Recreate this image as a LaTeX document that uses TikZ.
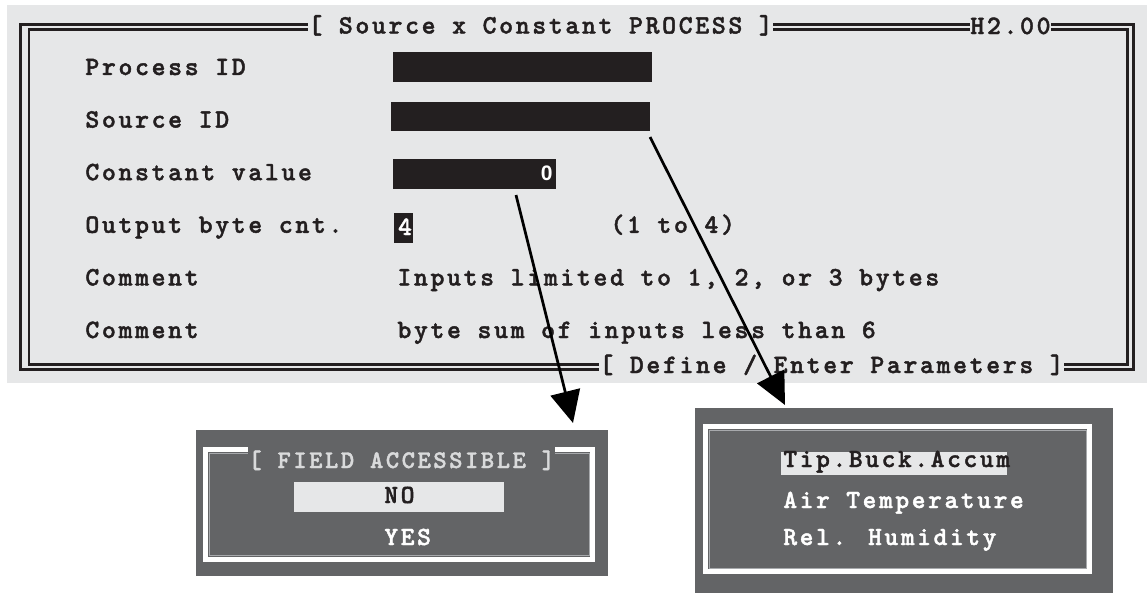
\documentclass[tikz,border=0pt]{standalone}
\usepackage{fontspec}
\newfontfamily\dosfont{lmmonolt10-bold.otf}[LetterSpace=10, FakeBold=1.6]
\newfontfamily\digitfont{Liberation Sans}
\usetikzlibrary{arrows.meta,positioning}
\definecolor{screen}{HTML}{E6E7E8}
\definecolor{ink}{HTML}{231F20}
\definecolor{popup}{HTML}{636466}
\definecolor{rim}{HTML}{A7A9AC}
\definecolor{dimtext}{HTML}{D9DADB}

\begin{document}
\begin{tikzpicture}[x=0.5pt, y=-0.5pt,
  label/.style={anchor=base west, inner sep=0, text=ink, font=\dosfont\fontsize{13.25}{15}\selectfont},
  cut/.style={label, fill=screen, inner ysep=2pt},
  field/.style={anchor=north west, fill=ink, inner sep=0, minimum height=15pt},
  frame/.style={draw=ink, line width=1.35pt},
  panel/.style={anchor=north west, fill=popup, inner sep=0},
  rimline/.style={draw=white, line width=2.5pt},
  rimthin/.style={draw=rim, line width=0.5pt},
  item/.style={anchor=base west, inner sep=0, text=white, font=\dosfont\fontsize{13.1}{15}\selectfont},
  pick/.style={anchor=north west, fill=screen, inner sep=0},
  pointer/.style={-{Triangle[length=16pt, width=15pt]}, line width=1.35pt, draw=black}
]
\useasboundingbox (0,0) rectangle (1147,594);

% --- screen background and double frame ---
\fill[screen] (7,5) rectangle (1147,383);
\draw[frame] (20.3,24.6) rectangle (1133.5,369.5);
\draw[frame] (29,29.5) rectangle (1127.5,364.5);
\node[cut] (title) at (308,33.5) {[ Source x Constant PROCESS ]};
\node[cut] (version) at (970,34) {H2.00};
\node[cut] (footer) at (599,373) {[ Define / Enter Parameters ]};

% --- labels ---
\node[label] (lblproc)  at (85,75)    {Process ID};
\node[label] (lblsrc)   at (85,127.6) {Source ID};
\node[label] (lblconst) at (85,180.2) {Constant value};
\node[label] (lblbytes) at (85,232.8) {Output byte cnt.};
\node[label] (lblcom1)  at (85,285.4) {Comment};
\node[label] (lblcom2)  at (85,338)   {Comment};

% --- input fields ---
\node[field, minimum width=129.5pt] (procfield)  at (393,52)  {};
\node[field, minimum width=129.5pt, minimum height=14.5pt] (srcfield) at (391,102) {};
\node[field, minimum width=81.5pt]  (cstfield)   at (393,159) {};
\node[field, minimum width=9.5pt]   (bytefield)  at (394,213) {};
\node[anchor=base east, inner sep=0, text=white, font=\digitfont\fontsize{10.5}{12}\selectfont\bfseries] (cstval) at (553,180.7) {0};
\node[anchor=base, inner sep=0, text=white, font=\dosfont\fontsize{13.25}{15}\selectfont] (byteval) at (405,235) {4};
\node[label] (range) at (610,232.8) {(1 to 4)};
\node[label] (com1) at (397,285.4) {Inputs limited to 1, 2, or 3 bytes};
\node[label] (com2) at (397,338)   {byte sum of inputs less than 6};

% --- popup: field accessible ---
\node[panel, minimum width=206pt, minimum height=73pt] (accbox) at (196,430) {};
\draw[rimline] (205.5,449.5) rectangle (592.5,559);
\draw[rimthin] (209,453) rectangle (589,555.5);
\node[item, text=dimtext, fill=popup, inner ysep=4pt, font=\dosfont\fontsize{12.67}{15}\selectfont] (acctitle) at (248,468) {[ FIELD ACCESSIBLE ]};
\node[pick, minimum width=105pt, minimum height=15pt] (nopick) at (294,482) {};
\node[item, text=ink] (optno) at (384,503) {NO};
\node[item] (optyes) at (384,545) {YES};

% --- popup: source list ---
\node[panel, minimum width=209pt, minimum height=92.5pt] (srcbox) at (695,408) {};
\draw[rimline] (705.5,426.5) rectangle (1089.5,571.5);
\draw[rimthin] (709,430) rectangle (1086,568);
\node[pick, minimum width=113pt, minimum height=11.5pt] (tippick) at (781,452) {};
\node[item, text=ink] (opttip) at (783,467) {Tip.Buck.Accum};
\node[item] (optair) at (783,508) {Air Temperature};
\node[item] (opthum) at (783,545) {Rel. Humidity};

% --- pointers ---
\coordinate (cstout) at (516,195);
\coordinate (accin)  at (573,423);
\coordinate (srcout) at (650,137);
\coordinate (srcin)  at (785,405);
\draw[pointer] (cstout) -- (accin);
\draw[pointer] (srcout) -- (srcin);
\end{tikzpicture}
\end{document}
